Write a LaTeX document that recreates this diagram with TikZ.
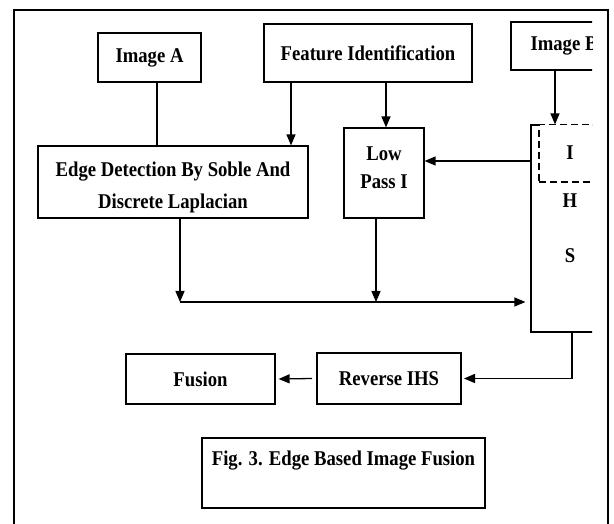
\documentclass[tikz,border=0pt]{standalone}
\usepackage{fontspec}
\setmainfont{Liberation Serif}[FakeStretch=0.89]
\usepackage{tikz}
\usetikzlibrary{arrows.meta}
\tikzstyle{box} = [rectangle, text centered, align=center, draw=black, line width=1.2pt, inner sep=0pt]
\tikzstyle{dbox} = [rectangle, draw=black, fill=white, line width=1.2pt, dash pattern=on 7pt off 4pt]
\tikzstyle{arrow} = [line width=1.3pt,-{Triangle[length=11pt,width=9pt]}]
\tikzstyle{line} = [line width=1.3pt]

\begin{document}
\begin{tikzpicture}[x=1pt,y=-1pt,font=\fontsize{21}{30}\selectfont\bfseries]
\useasboundingbox (0,0) rectangle (614,524);
\draw[line width=2.5pt] (14,530) -- (14,10) -- (608,10) -- (608,530);

\node (imga) [box,minimum width=103pt,minimum height=49pt] at (149.5,57.5) {Image A};
\node (feat) [box,minimum width=208pt,minimum height=58pt] at (368,53) {Feature Identification};
\node (edge) [box,minimum width=270pt,minimum height=72pt] at (173,182) {\rule{0pt}{26pt}Edge Detection By Soble And\\[2pt]Discrete Laplacian};
\node (lowp) [box,minimum width=80pt,minimum height=90pt] at (384,173) {Low\\[-2pt]Pass I\rule[-10pt]{0pt}{10pt}};
\node (fusion) [box,minimum width=149pt,minimum height=50pt] at (200.5,379) {Fusion};
\node (rihs) [box,line width=2pt,minimum width=144pt,minimum height=51pt] at (389,378.5) {Reverse IHS};
\node (cap) [box,minimum width=283pt,minimum height=70pt] at (343.5,473) {Fig. 3. Edge Based Image Fusion\\[-10pt] \strut};

% right column, cut at the edge
\begin{scope}
\clip (0,0) rectangle (592,524);
\node (imgb) [box,minimum width=106pt,minimum height=48pt] at (564,46) {Image B};
\node (ihs) [box,minimum width=78pt,minimum height=207pt] at (570,228.5) {};
\node (idash) [dbox,minimum width=62pt,minimum height=57.7pt] at (570,153.15) {};
\end{scope}
\node (li) at (570,153) {I};
\node (lh) at (570,201) {H};
\node (ls) at (570,256) {S};

\coordinate (ja) at (157,0);
\coordinate (jf) at (291,0);
\coordinate (jl) at (386,0);
\coordinate (jb) at (555,0);
\coordinate (ji) at (0,161);
\coordinate (m1) at (180,302);
\coordinate (m2) at (376,302);
\coordinate (jo) at (572,0);

\draw [line] (imga.south -| ja) -- (edge.north -| ja);
\draw [arrow] (feat.south -| jf) -- (edge.north -| jf);
\draw [arrow] (feat.south -| jl) -- (lowp.north -| jl);
\draw [arrow] (imgb.south -| jb) -- (ihs.north -| jb);
\draw [arrow] (ihs.west |- ji) -- (lowp.east |- ji);

\draw [arrow] (edge.south -| m1) -- (m1);
\draw [arrow] (lowp.south -| m2) -- (m2);
\draw [arrow] (m1) -- ([xshift=-5pt]ihs.west |- m1);

\draw [arrow] (ihs.south -| jo) |- ([xshift=2pt]rihs.east);
\draw [arrow] ([xshift=-4pt]rihs.west) -- ([xshift=3pt]fusion.east);

\end{tikzpicture}
\end{document}
